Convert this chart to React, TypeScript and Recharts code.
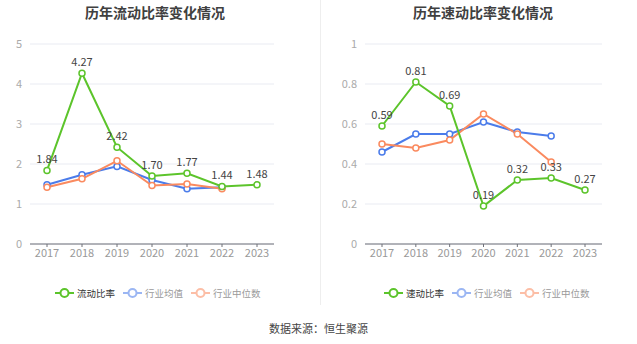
import { LineChart, Line, XAxis, YAxis, CartesianGrid, LabelList } from "recharts";

const years = ["2017", "2018", "2019", "2020", "2021", "2022", "2023"];

const currentRatio = [1.84, 4.27, 2.42, 1.7, 1.77, 1.44, 1.48];
const currentAvg = [1.48, 1.73, 1.94, 1.6, 1.38, 1.42, null];
const currentMedian = [1.42, 1.63, 2.08, 1.46, 1.5, 1.38, null];

const quickRatio = [0.59, 0.81, 0.69, 0.19, 0.32, 0.33, 0.27];
const quickAvg = [0.46, 0.55, 0.55, 0.61, 0.56, 0.54, null];
const quickMedian = [0.5, 0.48, 0.52, 0.65, 0.55, 0.41, null];

const currentTicks = [0, 1, 2, 3, 4, 5];
const quickTicks = [0, 0.2, 0.4, 0.6, 0.8, 1];

const GREEN = "#5cc42b";
const BLUE = "#4b7cea";
const ORANGE = "#fa8a5f";
const FONT = '"Noto Sans CJK SC", "Noto Sans", sans-serif';

function build(main: number[], avg: (number | null)[], med: (number | null)[]) {
  return years.map((y, i) => ({ year: y, main: main[i], avg: avg[i], med: med[i] }));
}

const fmt = (v: number) => v.toFixed(2);

interface ChartProps {
  data: { year: string; main: number; avg: number | null; med: number | null }[];
  ticks: number[];
  width: number;
  yWidth: number;
  right: number;
}

function RatioChart({ data, ticks, width, yWidth, right }: ChartProps) {
  const dot = { r: 3, fill: "#fff", strokeWidth: 1.5 };
  return (
    <LineChart
      width={width}
      height={310}
      data={data}
      margin={{ top: 44, right, left: 0, bottom: 36 }}
      style={{ fontFamily: FONT }}
    >
      <CartesianGrid vertical={false} stroke="#e9ebf2" />
      <XAxis
        dataKey="year"
        height={30}
        padding={{ left: 17, right: 17 }}
        stroke="#6e7079"
        tickSize={3}
        tickMargin={2}
        tick={{ fill: "#999", fontSize: 11 }}
      />
      <YAxis
        width={yWidth}
        domain={[ticks[0], ticks[ticks.length - 1]]}
        ticks={ticks}
        axisLine={false}
        tickLine={false}
        tick={{ fill: "#aaa", fontSize: 11 }}
      />
      <Line
        dataKey="avg"
        stroke={BLUE}
        strokeWidth={2}
        dot={dot}
        isAnimationActive={false}
      />
      <Line
        dataKey="med"
        stroke={ORANGE}
        strokeWidth={2}
        dot={dot}
        isAnimationActive={false}
      />
      <Line
        dataKey="main"
        stroke={GREEN}
        strokeWidth={2}
        dot={dot}
        isAnimationActive={false}
      >
        <LabelList
          dataKey="main"
          position="top"
          offset={7}
          formatter={(v: any) => fmt(Number(v))}
          style={{ fill: "#444", fontSize: 11 }}
        />
      </Line>
    </LineChart>
  );
}

function LegendIcon({ color, faded }: { color: string; faded?: boolean }) {
  return (
    <svg width={19} height={10} style={{ opacity: faded ? 0.55 : 1, marginRight: 3 }}>
      <line x1={0} y1={5} x2={19} y2={5} stroke={color} strokeWidth={2} />
      <circle cx={9.5} cy={5} r={4} fill="#fff" stroke={color} strokeWidth={2} />
    </svg>
  );
}

function ChartLegend({ left, mainName }: { left: number; mainName: string }) {
  const items = [
    { name: mainName, color: GREEN, faded: false },
    { name: "行业均值", color: BLUE, faded: true },
    { name: "行业中位数", color: ORANGE, faded: true },
  ];
  return (
    <div
      style={{
        position: "absolute",
        left,
        top: 286,
        display: "flex",
        alignItems: "center",
        fontSize: 9.5,
        fontFamily: FONT,
        lineHeight: "14px",
      }}
    >
      {items.map((it) => (
        <div key={it.name} style={{ display: "flex", alignItems: "center", marginRight: 8 }}>
          <LegendIcon color={it.color} faded={it.faded} />
          <span style={{ color: it.faded ? "#9a9a9a" : "#333" }}>{it.name}</span>
        </div>
      ))}
    </div>
  );
}

const titleStyle = {
  position: "absolute" as const,
  top: 2,
  width: 240,
  textAlign: "center" as const,
  fontSize: 14,
  fontWeight: 700,
  color: "#404040",
  fontFamily: FONT,
};

export default function App() {
  return (
    <div
      style={{
        position: "fixed",
        left: 0,
        top: 0,
        width: 637,
        height: 344,
        background: "#fff",
        overflow: "hidden",
      }}
    >
      <div style={{ ...titleStyle, left: 155 - 120 }}>历年流动比率变化情况</div>
      <div style={{ ...titleStyle, left: 483 - 120 }}>历年速动比率变化情况</div>

      <div style={{ position: "absolute", left: 0, top: 0 }}>
        <RatioChart
          data={build(currentRatio, currentAvg, currentMedian)}
          ticks={currentTicks}
          width={320}
          yWidth={30}
          right={46}
        />
      </div>
      <div style={{ position: "absolute", left: 320, top: 0 }}>
        <RatioChart
          data={build(quickRatio, quickAvg, quickMedian)}
          ticks={quickTicks}
          width={317}
          yWidth={45}
          right={35}
        />
      </div>

      <div
        style={{ position: "absolute", left: 320, top: 0, width: 1, height: 305, background: "#eeeeee" }}
      />

      <ChartLegend left={55} mainName="流动比率" />
      <ChartLegend left={384} mainName="速动比率" />

      <div
        style={{
          position: "absolute",
          left: 0,
          top: 320,
          width: 637,
          textAlign: "center",
          fontSize: 11,
          color: "#444",
          fontFamily: FONT,
        }}
      >
        数据来源：恒生聚源
      </div>
    </div>
  );
}
